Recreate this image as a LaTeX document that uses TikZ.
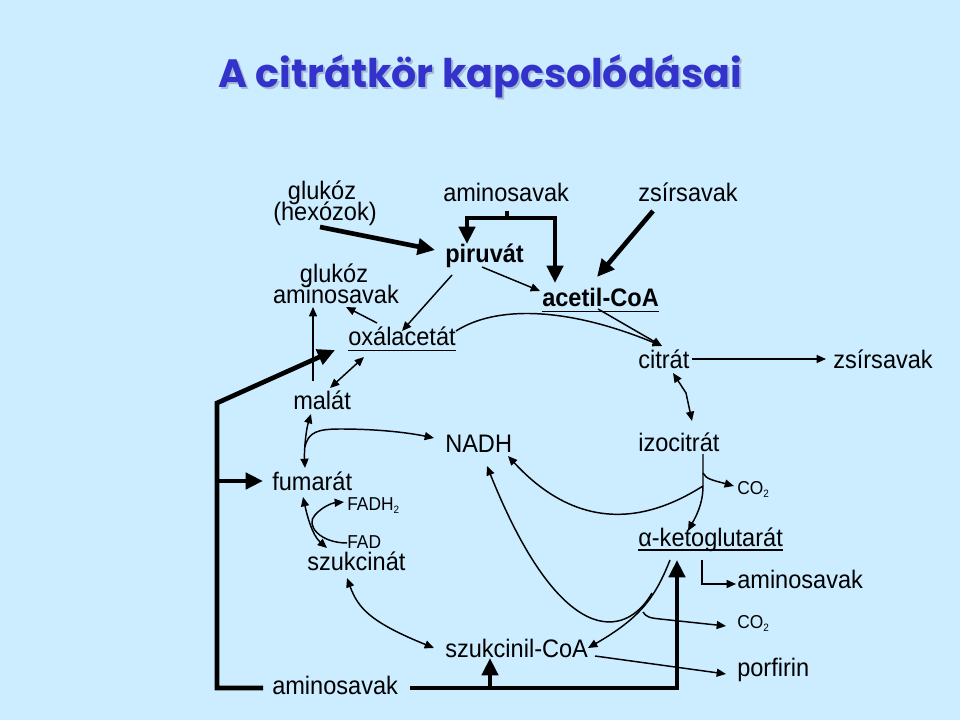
\documentclass[tikz,border=0pt]{standalone}
\usepackage{fontspec}
\setmainfont[FakeStretch=0.93]{Liberation Sans}
\newfontfamily\titlefont{Poppins}
\usetikzlibrary{arrows.meta}
\definecolor{bgblue}{RGB}{204,236,255}
\definecolor{ttlblue}{RGB}{51,51,204}
\definecolor{ttlshadow}{RGB}{165,185,215}
\newcommand\mysubs[1]{\raisebox{-2.5pt}{\fontsize{8}{9}\selectfont #1}}
\newcommand\titletext{\resizebox{393pt}{!}{\titlefont\bfseries A citrátkör kapcsolódásai}}
\begin{document}
\begin{tikzpicture}[x=0.75pt,y=-0.75pt,
  lbl/.style={inner sep=0pt,anchor=base west,font=\fontsize{19}{22}\selectfont},
  clbl/.style={lbl,anchor=base},
  blbl/.style={lbl,font=\fontsize{19}{22}\selectfont\bfseries},
  slbl/.style={lbl,font=\fontsize{14}{16}\selectfont},
  conn/.style={line width=1.1pt,-{Triangle[length=7pt,width=6pt]}},
  conntwo/.style={line width=1.1pt,{Triangle[length=7pt,width=6pt]}-{Triangle[length=7pt,width=6pt]}},
  heavy/.style={line width=3.5pt,-{Triangle[length=13pt,width=12pt]}},
  heavyline/.style={line width=3.5pt},
  uline/.style={line width=1.1pt}
]
\fill[bgblue] (0,0) rectangle (960,720);
\useasboundingbox (0,0) rectangle (960,720);

% title
\node[inner sep=0pt,anchor=base west,text=ttlshadow] (titleshadow) at (220,90) {\titletext};
\node[inner sep=0pt,anchor=base west,text=ttlblue] (title) at (218,88) {\titletext};

% labels
\node[clbl] (gl1) at (322,200) {glukóz};
\node[clbl] (hex) at (325,221) {(hexózok)};
\node[clbl] (gl2) at (334,283) {glukóz};
\node[clbl] (am1) at (336,304) {aminosavak};
\node[lbl] (oxal) at (348,345) {oxálacetát};
\node[lbl] (malat) at (293,409) {malát};
\node[lbl] (amtop) at (443,202) {aminosavak};
\node[lbl] (zstop) at (638,202) {zsírsavak};
\node[blbl] (piruvat) at (445,263) {piruvát};
\node[blbl] (acetil) at (542,306) {acetil-CoA};
\node[lbl] (citrat) at (638,368) {citrát};
\node[lbl] (zsr) at (833,368) {zsírsavak};
\node[lbl] (izo) at (638,451) {izocitrát};
\node[lbl] (nadh) at (445,452) {NADH};
\node[lbl] (fum) at (272,490) {fumarát};
\node[slbl] (fadh) at (347,510) {FADH\mysubs{2}};
\node[slbl] (fad) at (347,548) {FAD};
\node[lbl] (szuk) at (307,570) {szukcinát};
\node[lbl] (ambot) at (272,694) {aminosavak};
\node[lbl] (szukcoa) at (445,657) {szukcinil-CoA};
\node[slbl] (coa) at (737,494) {CO\mysubs{2}};
\node[lbl] (akg) at (638,546) {α-ketoglutarát};
\node[lbl] (amr) at (737,588) {aminosavak};
\node[slbl] (cob) at (737,628) {CO\mysubs{2}};
\node[lbl] (porf) at (737,676) {porfirin};

% underlines
\draw[uline] ([yshift=-4pt]oxal.base west) -- ([yshift=-4pt]oxal.base east);
\draw[uline] ([yshift=-4pt]acetil.base west) -- ([yshift=-4pt]acetil.base east);
\draw[uline] ([yshift=-3pt]akg.base west) -- ([yshift=-3pt]akg.base east);

% connector end points
\coordinate (hexout) at (320,227);
\coordinate (piruin) at (435,250);
\coordinate (amtopout) at (507,211);
\coordinate (amtopj) at (507,218);
\coordinate (piruintop) at (467,244);
\coordinate (acetinTop) at (555,283);
\coordinate (zsout) at (653,211);
\coordinate (acetinZs) at (597,277);
\coordinate (piruoutR) at (482,267);
\coordinate (acetinL) at (540,291);
\coordinate (piruoutL) at (452,275);
\coordinate (oxalin) at (402,331);
\coordinate (oxalout) at (377,323);
\coordinate (am1in) at (346,307);
\coordinate (malatup) at (313,381);
\coordinate (am1inB) at (313,307);
\coordinate (oxalbot) at (364,357);
\coordinate (malattop) at (330,388);
\coordinate (oxalR) at (456,331);
\coordinate (citin) at (662,346);
\coordinate (acetout) at (598,309);
\coordinate (citR) at (692,359);
\coordinate (zsrin) at (826,359);
\coordinate (citbot) at (673,373);
\coordinate (citizobend) at (686,393);
\coordinate (izotop) at (692,421);
\coordinate (izobot) at (703,454);
\coordinate (izoj1) at (703,473);
\coordinate (izoj2) at (703,486);
\coordinate (akgin) at (688,531);
\coordinate (coain) at (734,486);
\coordinate (nadhinR) at (508,456);
\coordinate (akgout) at (670,560);
\coordinate (akgj1) at (652,593);
\coordinate (akgj2) at (643,612);
\coordinate (szukcoain) at (588,648);
\coordinate (nadhinB) at (487,466);
\coordinate (cobin) at (726,626);
\coordinate (szukcoaout) at (595,656);
\coordinate (porfin) at (726,674);
\coordinate (akgoutR) at (702,560);
\coordinate (amrin) at (736,584);
\coordinate (ambotL) at (263,688);
\coordinate (frameBL) at (217,688);
\coordinate (frameTL) at (217,403);
\coordinate (frametip) at (335,350);
\coordinate (frameF) at (217,481);
\coordinate (fumin) at (263,481);
\coordinate (ambotR) at (410,688);
\coordinate (frameBR) at (677,688);
\coordinate (akginB) at (677,560);
\coordinate (frameS) at (490,688);
\coordinate (szukcoainB) at (490,658);
\coordinate (malatbot) at (311,414);
\coordinate (fumtop) at (305,468);
\coordinate (mfj) at (305,447);
\coordinate (nadhinL) at (434,438);
\coordinate (fumbot) at (303,497);
\coordinate (szuktop) at (327,548);
\coordinate (fadout) at (347,543);
\coordinate (fadhin) at (344,502);
\coordinate (szukbot) at (347,578);
\coordinate (szukcoainL) at (434,648);

% thick arrows
\draw[heavy] (hexout) -- (piruin);
\draw[heavyline] (amtopout) -- (amtopj);
\draw[heavy] (amtopj) -| (piruintop);
\draw[heavy] (amtopj) -| (acetinTop);
\draw[heavy] (zsout) -- (acetinZs);

% upper thin arrows
\draw[conn] (piruoutR) -- (acetinL);
\draw[conn] (piruoutL) -- (oxalin);
\draw[conn] (oxalout) -- (am1in);
\draw[conn] (malatup) -- (am1inB);
\draw[conntwo] (oxalbot) -- (malattop);
\draw[conn] (oxalR) .. controls (495,306) and (565,306) .. (citin);
\draw[conn] (acetout) -- (citin);
\draw[conn] (citR) -- (zsrin);
\draw[conntwo] (citbot) -- (citizobend) -- (izotop);

% izocitrát -> alfa-ketoglutarát
\draw[conn] (izobot) -- (izoj2) .. controls (703,505) and (695,518) .. (akgin);
\draw[conn] (izoj1) .. controls (706,479) and (712,480) .. (coain);
\draw[conn] (izoj2) .. controls (665,510) and (590,545) .. (nadhinR);

% alfa-ketoglutarát -> szukcinil-CoA
\draw[conn] (akgout) .. controls (655,598) and (640,618) .. (szukcoain);
\draw[conn] (akgj1) .. controls (625,640) and (560,648) .. (nadhinB);
\draw[conn] (akgj2) .. controls (646,617) and (650,618) .. (660,619) -- (cobin);
\draw[conn] (szukcoaout) -- (porfin);
\draw[conn] (akgoutR) |- (amrin);

% big frame from aminosavak
\draw[heavy] (ambotL) -- (frameBL) -- (frameTL) -- (frametip);
\draw[heavy] (frameF) -- (fumin);
\draw[heavy] (ambotR) -- (frameBR) -- (akginB);
\draw[heavy] (frameS) -- (szukcoainB);

% left side of the cycle
\draw[conntwo] (malatbot) .. controls (306,430) and (304,450) .. (fumtop);
\draw[conn] (mfj) .. controls (308,432) and (318,429) .. (340,429) .. controls (380,429) and (410,433) .. (nadhinL);
\draw[conntwo] (fumbot) .. controls (307,515) and (312,535) .. (szuktop);
\draw[conn] (fadout) .. controls (320,543) and (305,525) .. (315,515) .. controls (322,507) and (332,503) .. (fadhin);
\draw[conntwo] (szukbot) .. controls (358,608) and (370,622) .. (szukcoainL);
\end{tikzpicture}
\end{document}
